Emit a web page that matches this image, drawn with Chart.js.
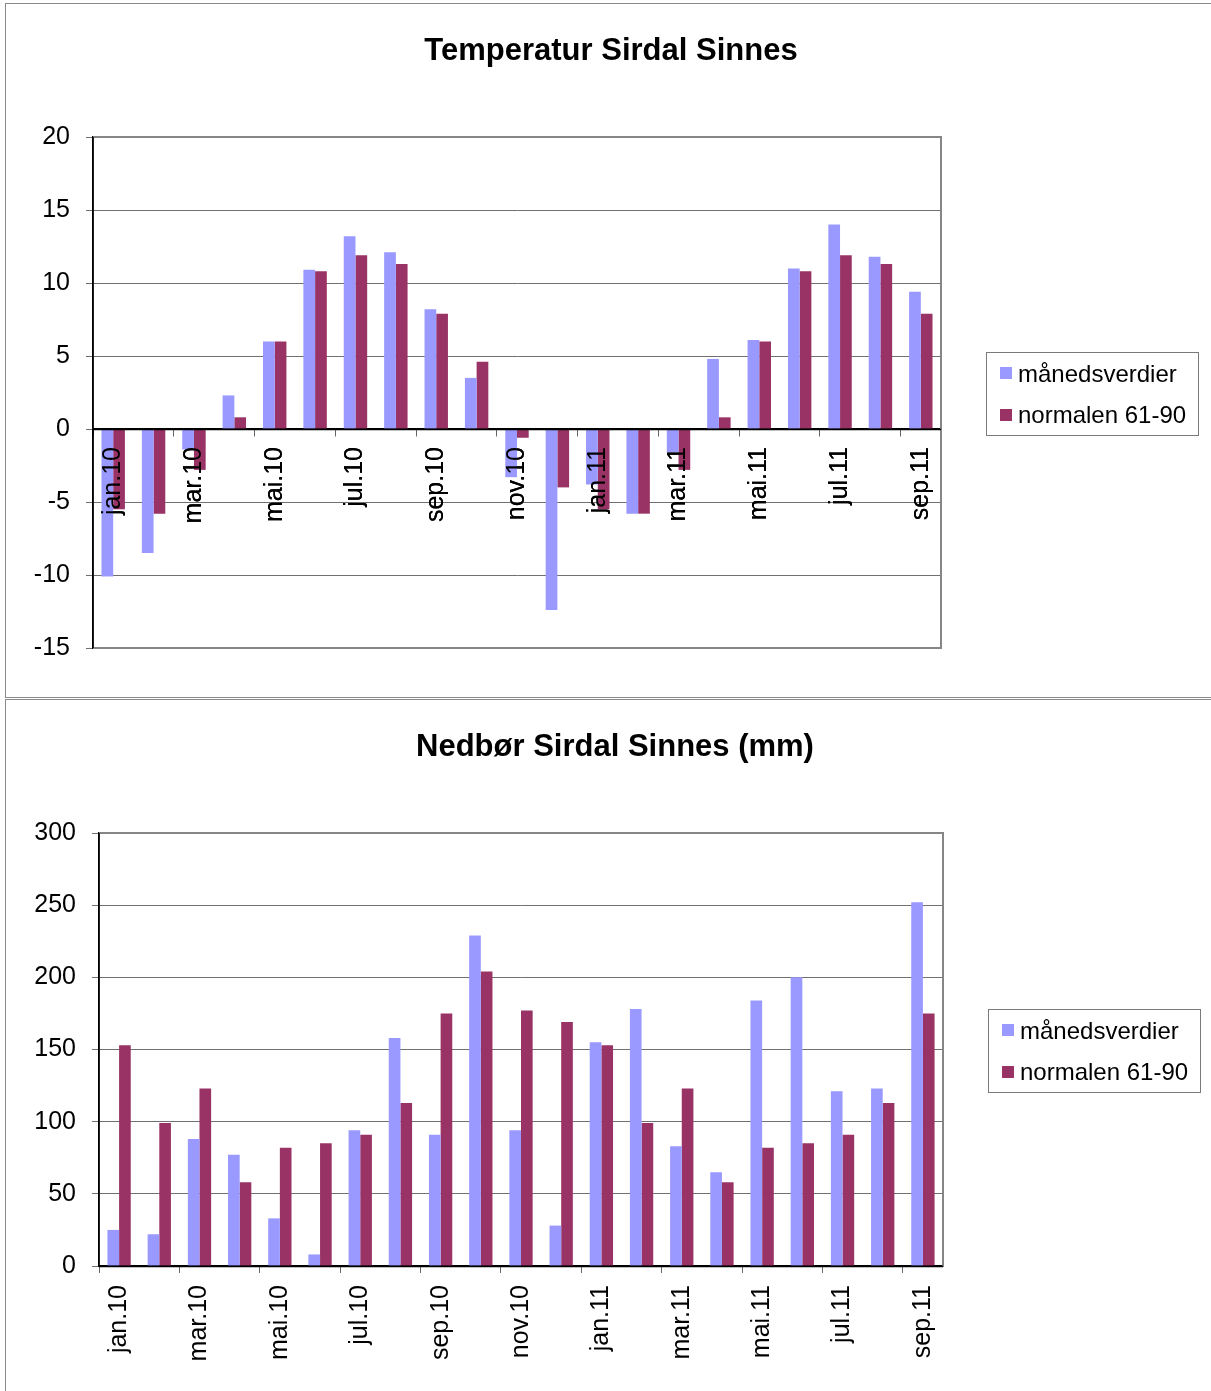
<!DOCTYPE html>
<html>
<head>
<meta charset="utf-8">
<script src="https://cdn.jsdelivr.net/npm/chart.js@4.4.1/dist/chart.umd.min.js"></script>
<style>
  html, body { margin: 0; padding: 0; background: #fff; }
  body { width: 1211px; height: 1391px; position: relative; overflow: hidden; font-family: "Liberation Sans", Arial, sans-serif; }
  .panel { position: absolute; left: 5px; width: 1240px; border: 1.5px solid #8a8a8a; box-sizing: border-box; }
  #panelTemp { top: 3px; height: 695px; }
  #panelRain { top: 699px; height: 720px; }
  canvas { position: absolute; left: 0; }
  .title { position: absolute; font-weight: bold; font-size: 31px; line-height: 31px; white-space: nowrap; transform: translateX(-50%); }
  .legendBox { position: absolute; width: 213px; height: 84px; border: 1.5px solid #7a7a7a; box-sizing: border-box; }
  .swatch { position: absolute; width: 12px; height: 12px; }
  .legendText { position: absolute; font-size: 24px; line-height: 24px; white-space: nowrap; }
</style>
</head>
<body>
<div class="panel" id="panelTemp"></div>
<div class="panel" id="panelRain"></div>
<canvas id="tempChart" width="1211" height="697" style="top:0"></canvas>
<canvas id="rainChart" width="1211" height="693" style="top:698px"></canvas>
<div class="title" style="left:611px; top:34px">Temperatur Sirdal Sinnes</div>
<div class="title" style="left:615px; top:730px">Nedbør Sirdal Sinnes (mm)</div>

<script>
const months = ['jan.10', 'feb.10', 'mar.10', 'apr.10', 'mai.10', 'jun.10', 'jul.10', 'aug.10', 'sep.10', 'okt.10', 'nov.10', 'des.10',
                'jan.11', 'feb.11', 'mar.11', 'apr.11', 'mai.11', 'jun.11', 'jul.11', 'aug.11', 'sep.11'];
const seriesNames = ['månedsverdier', 'normalen 61-90'];
const seriesColors = ['#9999FF', '#993366'];

const tempMonthly = [-10.1, -8.5, -1.4, 2.3, 6.0, 10.9, 13.2, 12.1, 8.2, 3.5, -3.3, -12.4, -3.8, -5.8, -1.6, 4.8, 6.1, 11.0, 14.0, 11.8, 9.4];
const tempNormal = [-5.5, -5.8, -2.8, 0.8, 6.0, 10.8, 11.9, 11.3, 7.9, 4.6, -0.6, -4.0, -5.5, -5.8, -2.8, 0.8, 6.0, 10.8, 11.9, 11.3, 7.9];
const tempTicks = [-15, -10, -5, 0, 5, 10, 15, 20];

const rainMonthly = [25, 22, 88, 77, 33, 8, 94, 158, 91, 229, 94, 28, 155, 178, 83, 65, 184, 200, 121, 123, 252];
const rainNormal = [153, 99, 123, 58, 82, 85, 91, 113, 175, 204, 177, 169, 153, 99, 123, 58, 82, 85, 91, 113, 175];
const rainTicks = [0, 50, 100, 150, 200, 250, 300];

const FONT = '"Liberation Sans", Arial, sans-serif';

// grey frame round the plot area, black left axis and zero line on top,
// month labels repainted so they sit over the bars
const framePlugin = {
    id: 'frame',
    afterDatasetsDraw(chart, args, opts) {
        const {ctx, chartArea: a} = chart;
        ctx.save();
        ctx.strokeStyle = '#868686';
        ctx.lineWidth = 2;
        ctx.beginPath();
        if (opts.bottom) { ctx.moveTo(a.left, a.bottom); ctx.lineTo(a.right, a.bottom); } else { ctx.moveTo(a.right, a.bottom); }
        ctx.lineTo(a.right, a.top);
        ctx.lineTo(a.left, a.top);
        ctx.stroke();
        ctx.strokeStyle = '#000';
        ctx.lineWidth = 1.5;
        ctx.beginPath();
        ctx.moveTo(a.left, a.top);
        ctx.lineTo(a.left, a.bottom);
        const y0 = Math.round(chart.scales.y.getPixelForValue(0)) + 0.5;
        ctx.moveTo(a.left, y0);
        ctx.lineTo(a.right, y0);
        ctx.stroke();
        ctx.restore();
        if (opts.labelsOnTop) chart.scales.x.drawLabels(a);
    }
};

function makeChart(id, monthly, normal, ticks, cfg) {
    const xScale = {
        grid: {
            drawOnChartArea: false, drawTicks: true, tickLength: 7, lineWidth: 1,
            color: c => (c.index !== undefined && c.index % 2 === 0) ? '#666' : 'rgba(0,0,0,0)'
        },
        border: { color: '#000', width: 1.5 },
        ticks: {
            autoSkip: false, minRotation: 90, maxRotation: 90, padding: cfg.labelPad, color: '#000',
            font: { family: FONT, size: 25 },
            callback: (v, i) => i % 2 === 0 ? months[i] : ''
        }
    };
    if (cfg.xAtZero) {
        xScale.position = { y: 0 };
    } else {
        xScale.position = 'bottom';
        xScale.afterFit = s => { s.height = cfg.xHeight; };
    }
    return new Chart(document.getElementById(id), {
        type: 'bar',
        data: {
            labels: months,
            datasets: [
                { label: seriesNames[0], data: monthly, backgroundColor: seriesColors[0], borderWidth: 0, categoryPercentage: 0.58, barPercentage: 1 },
                { label: seriesNames[1], data: normal, backgroundColor: seriesColors[1], borderWidth: 0, categoryPercentage: 0.58, barPercentage: 1 }
            ]
        },
        options: {
            responsive: false,
            animation: false,
            devicePixelRatio: 1,
            layout: { padding: cfg.padding },
            plugins: {
                legend: { display: false },
                title: { display: false },
                tooltip: { enabled: false },
                frame: { bottom: cfg.frameBottom, labelsOnTop: cfg.xAtZero }
            },
            scales: {
                x: xScale,
                y: {
                    min: ticks[0], max: ticks[ticks.length - 1],
                    ticks: { stepSize: ticks[1] - ticks[0], padding: 16, color: '#000', font: { family: FONT, size: 25 } },
                    grid: { color: '#707070', lineWidth: 1, drawTicks: true, tickLength: 7 },
                    border: { color: '#000', width: 1.5 },
                    afterFit: s => { s.width = cfg.yWidth; }
                }
            }
        },
        plugins: [framePlugin]
    });
}

makeChart('tempChart', tempMonthly, tempNormal, tempTicks, {
    xAtZero: true, labelPad: 11, yWidth: 93, frameBottom: true,
    padding: { left: 0, top: 137, right: 270, bottom: 49 }
});
makeChart('rainChart', rainMonthly, rainNormal, rainTicks, {
    xAtZero: false, labelPad: 12, yWidth: 99, xHeight: 125, frameBottom: false,
    padding: { left: 0, top: 135, right: 268, bottom: 0 }
});

// legends, drawn as page text next to each chart
function buildLegend(x, y) {
    const box = document.createElement('div');
    box.className = 'legendBox';
    box.style.left = x + 'px';
    box.style.top = y + 'px';
    document.body.appendChild(box);
    seriesNames.forEach((name, i) => {
        const sw = document.createElement('div');
        sw.className = 'swatch';
        sw.style.background = seriesColors[i];
        sw.style.left = (x + 14) + 'px';
        sw.style.top = (y + 15 + i * 42) + 'px';
        document.body.appendChild(sw);
        const t = document.createElement('div');
        t.className = 'legendText';
        t.textContent = name;
        t.style.left = (x + 32) + 'px';
        t.style.top = (y + 10 + i * 41) + 'px';
        document.body.appendChild(t);
    });
}
buildLegend(986, 352);
buildLegend(988, 1009);
</script>
</body>
</html>
